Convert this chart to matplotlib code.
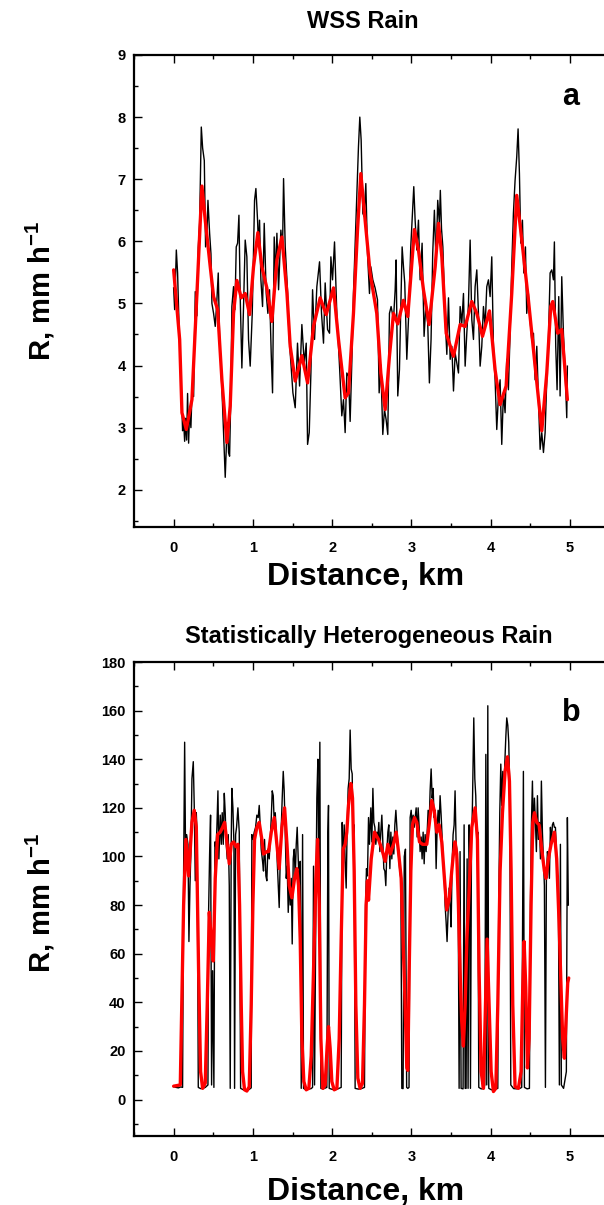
"""
Two-panel rain-rate profile: WSS rain (a) and statistically heterogeneous rain (b).
Black = raw rain rate, red = smoothed rain rate.
"""

import matplotlib

matplotlib.use("Agg")
import matplotlib.pyplot as plt
from matplotlib.ticker import MultipleLocator

plt.rcParams["font.family"] = ["Liberation Sans", "DejaVu Sans"]
plt.rcParams["font.weight"] = "bold"
plt.rcParams["mathtext.fontset"] = "custom"
plt.rcParams["mathtext.rm"] = "Liberation Sans:bold"
plt.rcParams["mathtext.bf"] = "Liberation Sans:bold"

W_PX, H_PX = 604, 1205

# ---- panel a: WSS rain ----
BLACK_A_KM = [
    0.000, 0.013, 0.034, 0.050, 0.067, 0.084, 0.097, 0.113, 0.126, 0.139,
    0.151, 0.164, 0.176, 0.189, 0.202, 0.218, 0.235, 0.252, 0.273, 0.294,
    0.311, 0.328, 0.349, 0.366, 0.387, 0.403, 0.420, 0.433, 0.454, 0.471,
    0.483, 0.504, 0.525, 0.546, 0.563, 0.580, 0.597, 0.613, 0.630, 0.651,
    0.668, 0.681, 0.693, 0.706, 0.723, 0.735, 0.756, 0.773, 0.790, 0.807,
    0.824, 0.840, 0.861, 0.882, 0.903, 0.924, 0.945, 0.966, 0.992, 1.008,
    1.021, 1.038, 1.059, 1.071, 1.084, 1.101, 1.122, 1.143, 1.168, 1.189,
    1.210, 1.231, 1.248, 1.269, 1.286, 1.303, 1.324, 1.353, 1.374, 1.387,
    1.408, 1.437, 1.455, 1.471, 1.505, 1.534, 1.563, 1.589, 1.618, 1.648,
    1.673, 1.690, 1.711, 1.732, 1.753, 1.778, 1.807, 1.841, 1.866, 1.891,
    1.912, 1.942, 1.967, 1.984, 2.005, 2.030, 2.059, 2.093, 2.122, 2.143,
    2.164, 2.185, 2.206, 2.227, 2.248, 2.269, 2.303, 2.332, 2.349, 2.366,
    2.387, 2.404, 2.425, 2.446, 2.471, 2.488, 2.513, 2.542, 2.572, 2.593,
    2.614, 2.639, 2.660, 2.681, 2.702, 2.723, 2.744, 2.774, 2.795, 2.807,
    2.828, 2.849, 2.866, 2.883, 2.900, 2.916, 2.942, 2.963, 2.992, 3.013,
    3.030, 3.047, 3.068, 3.089, 3.110, 3.135, 3.160, 3.181, 3.206, 3.227,
    3.248, 3.269, 3.290, 3.311, 3.332, 3.353, 3.365, 3.380, 3.397, 3.426,
    3.447, 3.468, 3.489, 3.510, 3.531, 3.552, 3.573, 3.594, 3.615, 3.636,
    3.657, 3.678, 3.699, 3.720, 3.741, 3.762, 3.783, 3.804, 3.825, 3.846,
    3.867, 3.888, 3.909, 3.930, 3.951, 3.972, 3.993, 4.014, 4.035, 4.056,
    4.077, 4.098, 4.119, 4.140, 4.161, 4.182, 4.203, 4.224, 4.245, 4.266,
    4.287, 4.308, 4.329, 4.346, 4.363, 4.380, 4.401, 4.418, 4.439, 4.455,
    4.476, 4.497, 4.518, 4.540, 4.561, 4.582, 4.603, 4.624, 4.645, 4.666,
    4.687, 4.708, 4.729, 4.750, 4.771, 4.792, 4.804, 4.821, 4.838, 4.859,
    4.876, 4.897, 4.918, 4.939, 4.960, 4.968,
]
BLACK_A_R = [
    5.25, 4.90, 5.86, 5.49, 4.70, 4.10, 3.60, 2.95, 3.10, 2.78,
    3.15, 2.80, 3.55, 2.75, 3.30, 3.00, 3.70, 3.50, 5.19, 4.80,
    5.90, 6.30, 7.84, 7.50, 7.30, 5.91, 6.10, 6.66, 6.13, 5.80,
    5.00, 4.84, 4.63, 5.06, 5.49, 4.42, 4.00, 3.50, 2.90, 2.20,
    2.80, 3.08, 2.60, 2.54, 3.60, 4.95, 5.27, 4.90, 5.91, 5.97,
    6.42, 5.11, 3.96, 4.95, 6.02, 5.75, 4.42, 3.99, 4.84, 5.80,
    6.66, 6.85, 6.34, 5.90, 6.34, 5.38, 4.95, 6.29, 5.16, 4.84,
    5.22, 4.20, 3.56, 6.07, 5.40, 6.13, 5.22, 6.18, 5.86, 7.01,
    5.91, 5.20, 4.50, 4.20, 3.56, 3.32, 4.36, 3.67, 4.66, 4.04,
    4.36, 2.73, 2.92, 3.88, 5.22, 4.42, 5.27, 5.67, 4.84, 4.36,
    5.33, 4.58, 4.52, 5.75, 5.38, 5.99, 4.84, 3.99, 3.19, 3.45,
    2.92, 3.88, 3.83, 3.10, 4.04, 5.16, 6.45, 7.52, 8.00, 7.63,
    6.45, 6.40, 6.93, 5.81, 5.16, 5.59, 5.38, 5.25, 5.06, 3.56,
    4.01, 2.89, 3.29, 3.13, 2.89, 4.84, 4.95, 4.74, 5.22, 5.70,
    3.51, 3.93, 4.95, 5.91, 5.59, 5.33, 4.10, 4.74, 5.91, 6.45,
    6.88, 6.34, 5.86, 6.34, 5.38, 5.97, 4.47, 4.95, 4.68, 3.72,
    4.42, 5.81, 6.50, 5.65, 6.66, 6.29, 6.82, 6.20, 5.91, 4.74,
    4.18, 5.09, 4.10, 4.31, 3.59, 4.20, 4.04, 3.88, 4.95, 4.68,
    5.16, 3.99, 4.52, 5.00, 6.02, 4.74, 4.42, 5.27, 5.54, 4.84,
    3.99, 4.31, 4.95, 4.63, 5.27, 5.38, 5.11, 5.75, 4.31, 3.77,
    2.97, 3.51, 3.77, 2.73, 3.56, 3.24, 4.10, 3.61, 4.52, 5.59,
    6.45, 6.98, 7.36, 7.81, 7.09, 5.97, 6.34, 5.49, 5.91, 4.84,
    5.16, 4.74, 4.42, 4.52, 3.77, 4.31, 3.45, 2.65, 2.92, 2.60,
    2.92, 3.77, 4.42, 5.49, 5.54, 5.38, 5.99, 4.31, 3.61, 5.11,
    3.51, 5.43, 4.52, 3.93, 3.16, 3.99,
]
RED_A_KM = [
    0.000, 0.076, 0.105, 0.160, 0.231, 0.294, 0.357, 0.399, 0.462, 0.504,
    0.555, 0.609, 0.672, 0.714, 0.756, 0.798, 0.853, 0.903, 0.958, 1.008,
    1.063, 1.113, 1.176, 1.239, 1.303, 1.366, 1.430, 1.471, 1.534, 1.618,
    1.690, 1.765, 1.849, 1.925, 2.017, 2.080, 2.164, 2.206, 2.269, 2.320,
    2.362, 2.416, 2.479, 2.563, 2.614, 2.669, 2.723, 2.774, 2.828, 2.900,
    2.954, 3.038, 3.089, 3.152, 3.223, 3.300, 3.342, 3.384, 3.439, 3.531,
    3.615, 3.678, 3.762, 3.825, 3.897, 3.985, 4.056, 4.119, 4.195, 4.266,
    4.329, 4.393, 4.476, 4.561, 4.645, 4.708, 4.758, 4.783, 4.846, 4.897,
    4.968,
]
RED_A_R = [
    5.54, 4.42, 3.24, 2.97, 3.45, 5.16, 6.89, 6.34, 5.59, 5.11,
    4.90, 3.77, 2.76, 3.35, 4.84, 5.37, 5.09, 5.16, 4.82, 5.59,
    6.14, 5.59, 5.25, 4.71, 5.70, 6.07, 5.16, 4.31, 3.75, 4.16,
    3.72, 4.63, 5.09, 4.82, 5.25, 4.42, 3.48, 3.56, 4.84, 6.18,
    7.09, 6.34, 5.49, 4.84, 3.88, 3.29, 4.15, 4.84, 4.67, 5.05,
    4.79, 6.19, 5.86, 5.22, 4.66, 5.59, 6.29, 5.75, 4.52, 4.15,
    4.66, 4.63, 5.03, 4.84, 4.47, 4.88, 3.93, 3.37, 3.67, 5.16,
    6.74, 6.02, 5.06, 3.99, 2.95, 3.88, 4.95, 5.03, 4.52, 4.58,
    3.45,
]

# ---- panel b: statistically heterogeneous rain ----
BLACK_B_KM = [
    0.000, 0.030, 0.060, 0.090, 0.113, 0.126, 0.139, 0.151, 0.164, 0.181,
    0.193, 0.206, 0.218, 0.231, 0.248, 0.260, 0.273, 0.286, 0.298, 0.311,
    0.340, 0.370, 0.400, 0.433, 0.441, 0.454, 0.466, 0.479, 0.492, 0.508,
    0.521, 0.534, 0.546, 0.559, 0.571, 0.588, 0.601, 0.613, 0.626, 0.639,
    0.651, 0.664, 0.676, 0.689, 0.702, 0.714, 0.727, 0.735, 0.748, 0.761,
    0.769, 0.782, 0.794, 0.811, 0.828, 0.845, 0.880, 0.920, 0.955, 0.979,
    0.987, 1.000, 1.017, 1.034, 1.050, 1.067, 1.080, 1.092, 1.105, 1.122,
    1.134, 1.147, 1.164, 1.176, 1.189, 1.206, 1.219, 1.232, 1.244, 1.257,
    1.270, 1.282, 1.295, 1.307, 1.320, 1.332, 1.345, 1.358, 1.370, 1.383,
    1.395, 1.408, 1.421, 1.433, 1.446, 1.458, 1.471, 1.484, 1.496, 1.509,
    1.522, 1.534, 1.547, 1.559, 1.572, 1.585, 1.597, 1.610, 1.627, 1.639,
    1.670, 1.700, 1.735, 1.753, 1.765, 1.778, 1.795, 1.807, 1.820, 1.832,
    1.845, 1.858, 1.890, 1.933, 1.946, 1.954, 1.963, 2.000, 2.040, 2.080,
    2.114, 2.127, 2.139, 2.152, 2.164, 2.177, 2.190, 2.202, 2.215, 2.227,
    2.240, 2.253, 2.265, 2.278, 2.290, 2.330, 2.370, 2.408, 2.421, 2.433,
    2.446, 2.459, 2.471, 2.488, 2.501, 2.514, 2.526, 2.539, 2.551, 2.564,
    2.577, 2.589, 2.602, 2.614, 2.627, 2.640, 2.652, 2.665, 2.677, 2.690,
    2.703, 2.715, 2.728, 2.741, 2.753, 2.766, 2.778, 2.791, 2.804, 2.816,
    2.829, 2.841, 2.854, 2.867, 2.879, 2.895, 2.910, 2.925, 2.940, 2.955,
    2.970, 2.984, 2.997, 3.009, 3.022, 3.035, 3.047, 3.060, 3.072, 3.085,
    3.098, 3.110, 3.123, 3.135, 3.148, 3.161, 3.173, 3.186, 3.199, 3.211,
    3.224, 3.236, 3.249, 3.262, 3.274, 3.287, 3.299, 3.312, 3.325, 3.337,
    3.350, 3.362, 3.375, 3.388, 3.400, 3.413, 3.425, 3.438, 3.450, 3.463,
    3.476, 3.488, 3.501, 3.514, 3.526, 3.539, 3.551, 3.564, 3.577, 3.589,
    3.602, 3.614, 3.627, 3.652, 3.665, 3.678, 3.690, 3.703, 3.715, 3.728,
    3.738, 3.745, 3.758, 3.770, 3.787, 3.800, 3.812, 3.825, 3.838, 3.850,
    3.880, 3.913, 3.926, 3.939, 3.951, 3.964, 3.976, 4.010, 4.050, 4.090,
    4.102, 4.115, 4.128, 4.140, 4.153, 4.165, 4.178, 4.191, 4.203, 4.216,
    4.228, 4.241, 4.254, 4.290, 4.330, 4.370, 4.392, 4.413, 4.426, 4.460,
    4.489, 4.502, 4.514, 4.527, 4.539, 4.552, 4.565, 4.577, 4.590, 4.602,
    4.615, 4.628, 4.640, 4.653, 4.665, 4.678, 4.691, 4.703, 4.716, 4.728,
    4.741, 4.754, 4.766, 4.779, 4.791, 4.804, 4.817, 4.829, 4.842, 4.854,
    4.867, 4.880, 4.892, 4.920, 4.955, 4.968, 4.980,
]
BLACK_B_R = [
    5.3, 5.0, 4.8, 5.2, 5.0, 94, 147, 99, 109, 105,
    65, 88, 102, 132, 139, 121, 90, 118, 107, 5.0,
    4.5, 4.6, 5.0, 6.0, 77, 101, 117, 6.0, 53, 5.0,
    106, 103, 112, 127, 99, 117, 105, 118, 105, 126,
    118, 105, 99, 109, 88, 4.6, 107, 128, 120, 105,
    4.6, 109, 112, 120, 110, 4.6, 4.0, 3.5, 4.2, 4.8,
    109, 107, 110, 112, 117, 116, 121, 113, 103, 98,
    94, 107, 92, 90, 103, 99, 107, 116, 127, 125,
    113, 118, 110, 98, 88, 79, 99, 112, 124, 135,
    127, 110, 91, 96, 77, 91, 80, 91, 64, 99,
    103, 91, 105, 112, 99, 88, 98, 4.6, 109, 4.6,
    4.0, 4.3, 4.5, 5.0, 96, 6.0, 80, 124, 140, 90,
    147, 4.6, 4.4, 5.0, 110, 121, 4.6, 4.2, 4.0, 4.5,
    5.0, 114, 94, 113, 98, 87, 113, 128, 132, 152,
    136, 134, 103, 113, 4.6, 4.3, 4.5, 5.0, 79, 95,
    92, 116, 105, 120, 106, 128, 114, 112, 105, 110,
    108, 114, 102, 110, 117, 105, 95, 94, 88, 102,
    110, 113, 95, 110, 99, 108, 101, 113, 119, 112,
    105, 99, 94, 91, 4.6, 4.5, 100, 103, 5.0, 4.6,
    5.0, 116, 119, 113, 117, 112, 116, 120, 108, 120,
    112, 102, 108, 99, 110, 97, 109, 102, 110, 119,
    113, 127, 136, 124, 128, 116, 119, 95, 112, 119,
    113, 125, 117, 108, 99, 94, 80, 73, 65, 77,
    87, 80, 71, 97, 109, 113, 127, 105, 102, 91,
    4.6, 102, 4.6, 4.4, 113, 4.6, 4.6, 99, 4.6, 113,
    94, 4.6, 105, 121, 157, 132, 125, 107, 110, 5.0,
    4.4, 4.5, 6.0, 142, 6.0, 162, 4.6, 4.0, 4.2, 4.6,
    80, 118, 138, 121, 135, 124, 138, 149, 157, 154,
    147, 127, 6.0, 4.5, 4.4, 4.6, 5.0, 135, 5.0, 4.4,
    4.6, 80, 113, 131, 107, 124, 114, 102, 125, 107,
    114, 99, 131, 110, 99, 88, 5.0, 91, 102, 99,
    91, 112, 105, 113, 114, 112, 112, 103, 91, 85,
    6.0, 105, 6.0, 4.6, 11.5, 116, 80,
]
RED_B_KM = [
    0.000, 0.084, 0.126, 0.155, 0.189, 0.231, 0.260, 0.286, 0.315, 0.340,
    0.366, 0.399, 0.424, 0.450, 0.475, 0.500, 0.525, 0.555, 0.588, 0.618,
    0.643, 0.672, 0.702, 0.727, 0.756, 0.786, 0.811, 0.832, 0.853, 0.870,
    0.895, 0.924, 0.954, 0.979, 1.000, 1.021, 1.050, 1.080, 1.113, 1.134,
    1.176, 1.198, 1.232, 1.270, 1.303, 1.332, 1.366, 1.400, 1.430, 1.458,
    1.492, 1.526, 1.555, 1.576, 1.597, 1.618, 1.643, 1.673, 1.706, 1.736,
    1.765, 1.795, 1.816, 1.837, 1.858, 1.883, 1.912, 1.937, 1.954, 1.975,
    1.996, 2.026, 2.060, 2.089, 2.114, 2.139, 2.164, 2.185, 2.206, 2.236,
    2.257, 2.278, 2.299, 2.324, 2.353, 2.383, 2.408, 2.429, 2.445, 2.459,
    2.493, 2.535, 2.585, 2.627, 2.669, 2.703, 2.732, 2.774, 2.808, 2.837,
    2.871, 2.900, 2.921, 2.942, 2.955, 2.972, 2.993, 3.014, 3.039, 3.068,
    3.102, 3.140, 3.194, 3.224, 3.257, 3.287, 3.320, 3.350, 3.383, 3.417,
    3.446, 3.480, 3.509, 3.530, 3.551, 3.572, 3.593, 3.614, 3.635, 3.656,
    3.678, 3.700, 3.720, 3.741, 3.762, 3.804, 3.833, 3.854, 3.880, 3.909,
    3.930, 3.955, 3.980, 4.006, 4.035, 4.065, 4.090, 4.119, 4.149, 4.182,
    4.212, 4.237, 4.258, 4.279, 4.308, 4.350, 4.384, 4.405, 4.422, 4.443,
    4.464, 4.485, 4.510, 4.531, 4.552, 4.581, 4.611, 4.644, 4.678, 4.699,
    4.728, 4.762, 4.804, 4.833, 4.863, 4.888, 4.909, 4.930, 4.951, 4.972,
    4.985,
]
RED_B_R = [
    5.5, 6.0, 80, 107, 92, 114, 119, 112, 53, 11.5,
    4.6, 6.7, 39, 77, 66, 57, 91, 109, 110, 112,
    114, 106, 97, 105, 106, 104, 105, 80, 39, 11.5,
    4.0, 3.5, 5.3, 39, 80, 107, 112, 114, 107, 101,
    102, 102, 110, 116, 105, 95, 112, 120, 105, 88,
    83, 91, 95, 88, 66, 25, 7.4, 4.0, 4.6, 18,
    53, 91, 107, 80, 25, 4.6, 6.0, 22, 30, 21,
    7.4, 4.0, 4.6, 25, 66, 103, 105, 110, 121, 130,
    124, 94, 39, 8.8, 4.6, 6.7, 39, 80, 90, 82,
    99, 110, 107, 103, 98, 105, 101, 105, 110, 102,
    91, 60, 39, 13, 12, 53, 94, 113, 116, 114,
    106, 105, 105, 113, 123, 119, 110, 113, 106, 91,
    78, 83, 94, 101, 106, 101, 80, 53, 32, 22,
    39, 66, 80, 96, 112, 120, 107, 53, 11.5, 4.6,
    32, 66, 39, 11.5, 3.3, 4.6, 39, 94, 118, 135,
    141, 131, 94, 39, 5.3, 4.6, 11.5, 46, 65, 46,
    13, 25, 80, 114, 118, 114, 113, 103, 94, 91,
    99, 105, 110, 99, 73, 46, 25, 17, 32, 48,
    50,
]

X_TICKS = [0, 1, 2, 3, 4, 5]
Y_TICKS_A = [2, 3, 4, 5, 6, 7, 8, 9]
Y_TICKS_B = [0, 20, 40, 60, 80, 100, 120, 140, 160, 180]


def fx(px):
    return px / W_PX


def fy(py):
    return 1.0 - py / H_PX


def style_axes(ax, yticks, ylim, yminor):
    ax.set_xlim(-0.5, 5.43)
    ax.set_ylim(*ylim)
    ax.set_xticks(X_TICKS)
    ax.set_yticks(yticks)
    ax.xaxis.set_minor_locator(MultipleLocator(0.5))
    ax.yaxis.set_minor_locator(MultipleLocator(yminor))
    ax.spines["right"].set_visible(False)
    for s in ("left", "top", "bottom"):
        ax.spines[s].set_linewidth(1.6)
    ax.tick_params(which="both", direction="in", top=True, right=False, width=1.0)
    ax.tick_params(which="major", length=6, labelsize=10.5)
    ax.tick_params(which="minor", length=3)
    ax.tick_params(axis="y", which="major", pad=6)
    ax.tick_params(axis="x", which="major", pad=10)
    for lab in ax.get_xticklabels() + ax.get_yticklabels():
        lab.set_fontweight("bold")


def draw_panel(ax, bkm, br, rkm, rr):
    ax.plot(bkm, br, color="black", lw=1.0, zorder=2)
    ax.plot(rkm, rr, color="#ff0000", lw=2.4, zorder=3,
            solid_joinstyle="round", solid_capstyle="round")


def main():
    fig = plt.figure(figsize=(W_PX / 100, H_PX / 100), dpi=100)

    ax_a = fig.add_axes([fx(134), fy(527), 1.0 - fx(134), fy(55) - fy(527)])
    draw_panel(ax_a, BLACK_A_KM, BLACK_A_R, RED_A_KM, RED_A_R)
    style_axes(ax_a, Y_TICKS_A, (1.4, 9), 0.5)

    ax_b = fig.add_axes([fx(134), fy(1136), 1.0 - fx(134), fy(662) - fy(1136)])
    draw_panel(ax_b, BLACK_B_KM, BLACK_B_R, RED_B_KM, RED_B_R)
    style_axes(ax_b, Y_TICKS_B, (-15, 180), 10)

    # titles, axis labels, panel letters
    fig.text(fx(363), fy(22), "WSS Rain", ha="center", va="center",
             fontsize=17, fontweight="bold")
    fig.text(fx(369), fy(637), "Statistically Heterogeneous Rain", ha="center",
             va="center", fontsize=17, fontweight="bold")
    for yc in (577, 1192):
        fig.text(fx(366), fy(yc), "Distance, km", ha="center", va="center",
                 fontsize=23, fontweight="bold")
    for yc in (291, 903):
        fig.text(fx(40), fy(yc), r"R, mm h$^{\mathbf{-1}}$", ha="center",
                 va="center", rotation=90, fontsize=21, fontweight="bold")
    fig.text(fx(571), fy(97), "a", ha="center", va="center", fontsize=22,
             fontweight="bold")
    fig.text(fx(571), fy(713), "b", ha="center", va="center", fontsize=22,
             fontweight="bold")

    fig.savefig("out.png", dpi=100)
    plt.close(fig)


if __name__ == "__main__":
    main()
